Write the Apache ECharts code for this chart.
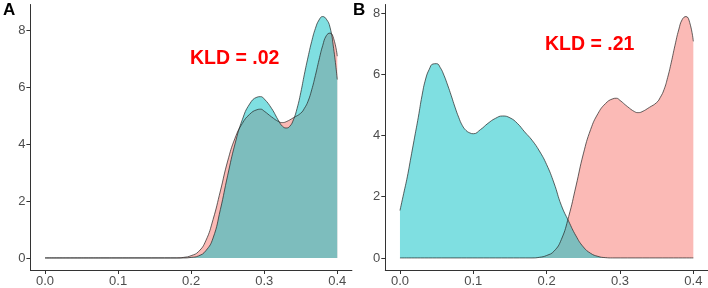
<!DOCTYPE html>
<html>
<head>
<meta charset="utf-8">
<script src="https://cdn.jsdelivr.net/npm/echarts@6/dist/echarts.min.js"></script>
<style>
  html, body { margin: 0; padding: 0; background: #fff; }
  #chart { width: 708px; height: 288px; }
</style>
</head>
<body>
<div id="chart"></div>
<script>
// reference density (red), same in both panels
var refCurve = [
  [0, 0], [0.18, 0], [0.19, 0.02], [0.2, 0.08], [0.21, 0.22], [0.22, 0.6],
  [0.23, 1.35], [0.24, 2.35], [0.25, 3.4], [0.26, 4.2], [0.27, 4.72],
  [0.28, 5.04], [0.29, 5.2], [0.295, 5.22], [0.3, 5.15], [0.31, 4.95],
  [0.32, 4.78], [0.325, 4.75], [0.33, 4.78], [0.34, 4.92], [0.35, 5.08],
  [0.355, 5.25], [0.36, 5.5], [0.365, 5.9], [0.37, 6.4], [0.375, 6.95],
  [0.38, 7.45], [0.385, 7.8], [0.39, 7.89], [0.395, 7.7], [0.4, 7.08]
];
// comparison density, panel A
var cyanA = [
  [0, 0], [0.19, 0], [0.2, 0.02], [0.21, 0.07], [0.22, 0.25], [0.23, 0.7],
  [0.24, 1.7], [0.25, 2.9], [0.26, 4.0], [0.27, 4.85], [0.28, 5.4],
  [0.29, 5.64], [0.295, 5.66], [0.3, 5.58], [0.31, 5.25], [0.32, 4.8],
  [0.325, 4.62], [0.33, 4.56], [0.335, 4.62], [0.34, 4.85], [0.345, 5.25],
  [0.35, 5.8], [0.355, 6.45], [0.36, 7.05], [0.365, 7.6], [0.37, 8.05],
  [0.375, 8.35], [0.38, 8.47], [0.385, 8.38], [0.39, 8.1], [0.395, 7.35],
  [0.4, 6.26]
];
// comparison density, panel B
var cyanB = [
  [0, 1.55], [0.005, 2.1], [0.01, 2.65], [0.015, 3.3], [0.02, 3.95],
  [0.025, 4.6], [0.03, 5.3], [0.035, 5.85], [0.04, 6.17], [0.045, 6.34],
  [0.05, 6.35], [0.055, 6.22], [0.06, 5.97], [0.065, 5.65], [0.07, 5.3],
  [0.075, 4.93], [0.08, 4.6], [0.085, 4.33], [0.09, 4.17], [0.095, 4.09],
  [0.1, 4.06], [0.11, 4.2], [0.12, 4.4], [0.13, 4.56], [0.14, 4.64],
  [0.15, 4.58], [0.16, 4.4], [0.17, 4.12], [0.18, 3.85], [0.19, 3.5],
  [0.2, 3.05], [0.21, 2.45], [0.22, 1.72], [0.23, 1.2], [0.24, 0.72],
  [0.25, 0.36], [0.26, 0.15], [0.27, 0.05], [0.28, 0.01], [0.29, 0], [0.4, 0]
];
var xTicks = [0, 0.1, 0.2, 0.3, 0.4];
var yTicks = [0, 2, 4, 6, 8];
var panelLabels = ['A', 'B'];
var kldLabels = ['KLD = .02', 'KLD = .21'];

var FONT = '"Liberation Sans", Arial, sans-serif';
var AXIS_COL = '#333333';
var LABEL_COL = '#4d4d4d';

function peak(arr) {
  return Math.max.apply(null, arr.map(function (p) { return p[1]; }));
}
var topA = Math.max(peak(refCurve), peak(cyanA));
var topB = Math.max(peak(refCurve), peak(cyanB));

function xAxisFor(idx) {
  return {
    gridIndex: idx, type: 'value', min: -0.02, max: 0.42,
    axisLine: { onZero: false, lineStyle: { color: AXIS_COL, width: 1 } },
    axisTick: { show: true, length: 4, customValues: xTicks, lineStyle: { color: AXIS_COL } },
    axisLabel: {
      customValues: xTicks, margin: 5, color: LABEL_COL, fontSize: 13, fontFamily: FONT,
      formatter: function (v) { return v.toFixed(1); }
    },
    splitLine: { show: false }
  };
}
function yAxisFor(idx, top) {
  return {
    gridIndex: idx, type: 'value', min: -0.05 * top, max: top * 1.05,
    axisLine: { show: true, onZero: false, lineStyle: { color: AXIS_COL, width: 1 } },
    axisTick: { show: true, length: 4, customValues: yTicks, lineStyle: { color: AXIS_COL } },
    axisLabel: {
      customValues: yTicks, margin: 5, color: LABEL_COL, fontSize: 13, fontFamily: FONT
    },
    splitLine: { show: false }
  };
}
function density(idx, data, fill) {
  return {
    type: 'line', xAxisIndex: idx, yAxisIndex: idx, data: data,
    smooth: 0.5, showSymbol: false, silent: true,
    lineStyle: { color: '#222', width: 0.7 },
    areaStyle: { color: fill, opacity: 1, origin: 0 }
  };
}

var chart = echarts.init(document.getElementById('chart'));
chart.setOption({
  animation: false,
  backgroundColor: '#fff',
  grid: [
    { left: 30.4, top: 4.5, width: 321.5, height: 267 },
    { left: 385.3, top: 4.5, width: 322.7, height: 267 }
  ],
  xAxis: [xAxisFor(0), xAxisFor(1)],
  yAxis: [yAxisFor(0, topA), yAxisFor(1, topB)],
  series: [
    density(0, refCurve, 'rgba(248,118,109,0.5)'),
    density(0, cyanA, 'rgba(0,191,196,0.5)'),
    density(1, refCurve, 'rgba(248,118,109,0.5)'),
    density(1, cyanB, 'rgba(0,191,196,0.5)')
  ],
  graphic: [
    { type: 'text', left: 3, top: 2, style: { text: panelLabels[0], font: 'bold 17px ' + FONT, fill: '#000' } },
    { type: 'text', left: 353, top: 2, style: { text: panelLabels[1], font: 'bold 17px ' + FONT, fill: '#000' } },
    { type: 'text', left: 190, top: 49, style: { text: kldLabels[0], font: 'bold 19.5px ' + FONT, fill: '#ff0000' } },
    { type: 'text', left: 545, top: 35, style: { text: kldLabels[1], font: 'bold 19.5px ' + FONT, fill: '#ff0000' } }
  ]
});
</script>
</body>
</html>
